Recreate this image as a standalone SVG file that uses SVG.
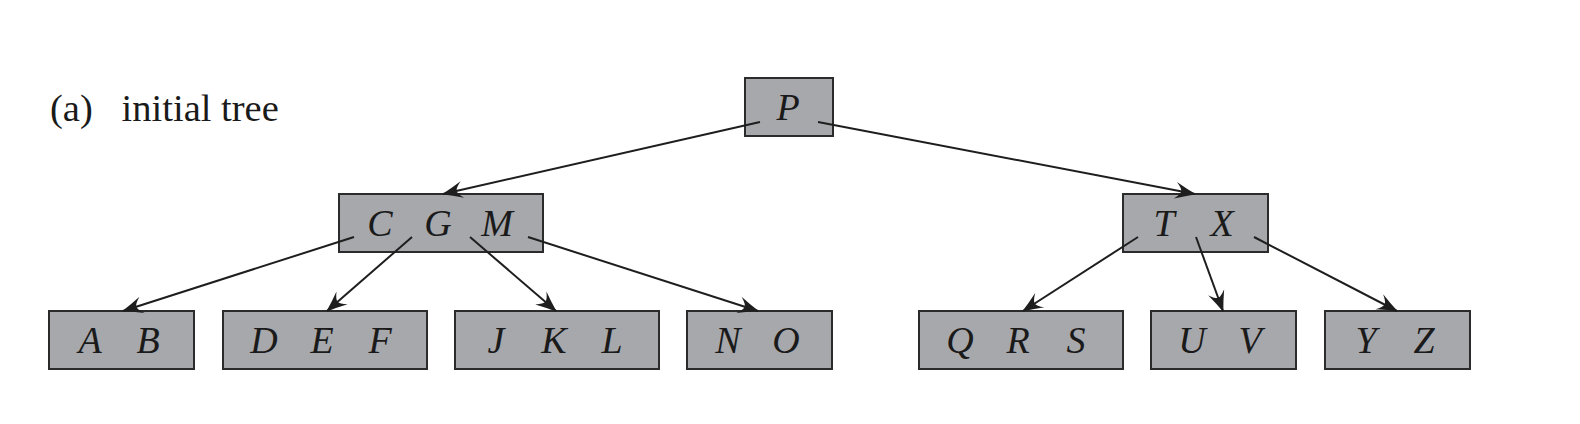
<svg xmlns="http://www.w3.org/2000/svg" width="1580" height="424" viewBox="0 0 1580 424">
<style>
.box{fill:#a7a8ac;stroke:#2b2b2b;stroke-width:2}
.k{font-family:"Liberation Serif","Times New Roman",serif;font-style:italic;font-size:38px;fill:#1a1a1a;text-anchor:middle}
.cap{font-family:"Liberation Serif","Times New Roman",serif;font-size:38.5px;fill:#1a1a1a}
.e{stroke:#1e1e1e;stroke-width:2;fill:none;marker-end:url(#ah)}
</style>
<defs>
<marker id="ah" markerUnits="userSpaceOnUse" viewBox="-22 -10 24 20" refX="0" refY="0" markerWidth="24" markerHeight="20" orient="auto">
<path d="M1,0 Q-9,-3.5 -20,-8.5 Q-14,-3 -14,0 Q-14,3 -20,8.5 Q-9,3.5 1,0 Z" fill="#1e1e1e"/>
</marker>
</defs>
<text class="cap" x="50" y="121" xml:space="preserve">(a)   initial tree</text>
<g id="P"><rect class="box" x="745" y="78" width="88" height="58"/><text class="k" x="788" y="120">P</text></g>
<g id="CGM"><rect class="box" x="339" y="194" width="204" height="58"/><text class="k" x="380" y="236">C</text><text class="k" x="438" y="236">G</text><text class="k" x="497" y="236">M</text></g>
<g id="TX"><rect class="box" x="1123" y="194" width="145" height="58"/><text class="k" x="1164" y="236">T</text><text class="k" x="1222" y="236">X</text></g>
<g id="AB"><rect class="box" x="49" y="311" width="145" height="58"/><text class="k" x="90" y="353">A</text><text class="k" x="148" y="353">B</text></g>
<g id="DEF"><rect class="box" x="223" y="311" width="204" height="58"/><text class="k" x="264" y="353">D</text><text class="k" x="322" y="353">E</text><text class="k" x="380" y="353">F</text></g>
<g id="JKL"><rect class="box" x="455" y="311" width="204" height="58"/><text class="k" x="496" y="353">J</text><text class="k" x="554" y="353">K</text><text class="k" x="612" y="353">L</text></g>
<g id="NO"><rect class="box" x="687" y="311" width="145" height="58"/><text class="k" x="728" y="353">N</text><text class="k" x="786" y="353">O</text></g>
<g id="QRS"><rect class="box" x="919" y="311" width="204" height="58"/><text class="k" x="960" y="353">Q</text><text class="k" x="1018" y="353">R</text><text class="k" x="1076" y="353">S</text></g>
<g id="UV"><rect class="box" x="1151" y="311" width="145" height="58"/><text class="k" x="1192" y="353">U</text><text class="k" x="1250" y="353">V</text></g>
<g id="YZ"><rect class="box" x="1325" y="311" width="145" height="58"/><text class="k" x="1366" y="353">Y</text><text class="k" x="1424" y="353">Z</text></g>
<g id="connectors">
<line class="e" x1="760" y1="122" x2="443" y2="194"/>
<line class="e" x1="818" y1="122" x2="1195" y2="194"/>
<line class="e" x1="354" y1="237" x2="123" y2="311"/>
<line class="e" x1="412" y1="237" x2="327" y2="311"/>
<line class="e" x1="470" y1="237" x2="556" y2="311"/>
<line class="e" x1="528" y1="237" x2="758" y2="311"/>
<line class="e" x1="1138" y1="237" x2="1023" y2="311"/>
<line class="e" x1="1196" y1="237" x2="1223" y2="311"/>
<line class="e" x1="1254" y1="237" x2="1397" y2="311"/>
</g>
</svg>
